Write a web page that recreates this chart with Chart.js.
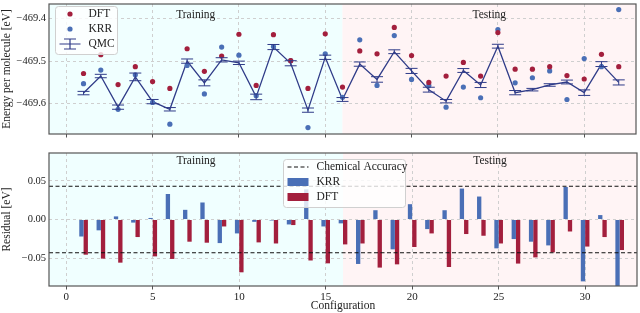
<!DOCTYPE html>
<html lang="en">
<head>
    <meta charset="UTF-8">
    <title>QMC vs DFT / KRR energies and residuals</title>
    <script src="https://cdn.jsdelivr.net/npm/chart.js"></script>
    <style>
        body {
            margin: 0;
            padding: 0;
            background-color: #ffffff;
        }
        #wrap {
            position: relative;
            width: 640px;
            height: 313px;
        }
        canvas {
            position: absolute;
            left: 0;
        }
        #topChart { top: 0; }
        #bottomChart { top: 140px; }
    </style>
</head>
<body>

    <div id="wrap">
        <canvas id="topChart" width="640" height="140"></canvas>
        <canvas id="bottomChart" width="640" height="173"></canvas>
    </div>

    <script>
        // configurations 1..32
        const configs = [1, 2, 3, 4, 5, 6, 7, 8, 9, 10, 11, 12, 13, 14, 15, 16,
                         17, 18, 19, 20, 21, 22, 23, 24, 25, 26, 27, 28, 29, 30, 31, 32];

        // energies per molecule [eV]
        const qmcEnergy = [-469.575, -469.535, -469.608, -469.537, -469.595, -469.613, -469.500, -469.551,
                           -469.497, -469.504, -469.584, -469.467, -469.505, -469.615, -469.491, -469.590,
                           -469.507, -469.543, -469.478, -469.523, -469.567, -469.594, -469.522, -469.556,
                           -469.465, -469.574, -469.567, -469.556, -469.549, -469.574, -469.507, -469.550];
        const qmcError = [0.004, 0.004, 0.005, 0.009, 0.005, 0.004, 0.005, 0.007,
                          0.005, 0.004, 0.0065, 0.006, 0.006, 0.005, 0.005, 0.0045,
                          0.005, 0.0065, 0.0045, 0.006, 0.0057, 0.004, 0.0045, 0.006,
                          0.0045, 0.005, 0.003, 0.003, 0.0045, 0.0065, 0.0057, 0.006];
        const dftEnergy = [-469.529, -469.485, -469.555, -469.513, -469.548, -469.564, -469.471, -469.524,
                           -469.488, -469.437, -469.557, -469.438, -469.499, -469.564, -469.436, -469.561,
                           -469.476, -469.483, -469.421, -469.487, -469.550, -469.535, -469.503, -469.535,
                           -469.433, -469.519, -469.519, -469.513, -469.534, -469.542, -469.484, -469.513];
        const krrEnergy = [-469.553, -469.521, -469.613, -469.532, -469.597, -469.648, -469.510, -469.577,
                           -469.467, -469.486, -469.581, -469.466, -469.499, -469.656, -469.483, -469.585,
                           -469.450, -469.557, -469.440, -469.543, -469.557, -469.608, -469.561, -469.586,
                           -469.426, -469.551, -469.539, -469.523, -469.590, -469.494, -469.513, -469.379];

        // residuals [eV]
        const krrResidual = [-0.022, -0.014, 0.004, -0.004, 0.002, 0.033, 0.0125, 0.022,
                             -0.0305, -0.018, -0.003, -0.0013, -0.0064, 0.039, -0.009, -0.005,
                             -0.0575, 0.012, -0.0386, 0.0198, -0.0124, 0.012, 0.040, 0.0297,
                             -0.0373, -0.0253, -0.0287, -0.0335, 0.042, -0.080, 0.0057, -0.171];
        const dftResidual = [-0.0455, -0.0506, -0.0558, -0.0227, -0.0477, -0.051, -0.0287, -0.030,
                             -0.009, -0.0683, -0.0296, -0.031, -0.0072, -0.053, -0.0567, -0.0322,
                             -0.031, -0.0622, -0.058, -0.0356, -0.018, -0.0614, -0.0188, -0.021,
                             -0.031, -0.057, -0.049, -0.0425, -0.0155, -0.035, -0.0227, -0.0395];

        const chemicalAccuracy = 0.043;
        const trainingEnd = 16;      // Training | Testing split
        const xRange = [-1, 33];
        const xTicks = [0, 5, 10, 15, 20, 25, 30];
        const energyTicks = [-469.6, -469.5, -469.4];
        const residualTicks = [-0.05, 0, 0.05];

        const SERIF = '"Liberation Serif", "DejaVu Serif", serif';
        const dftColor = '#a31f3d';
        const krrColor = '#4a6fb6';
        const qmcColor = '#2f3b88';
        const gridColor = '#cfcfcf';

        const minus = s => s.replace('-', '\u2212');

        // shaded regions, region labels and frame
        const regionPlugin = {
            id: 'regions',
            beforeDraw(chart) {
                const { ctx, chartArea: a, scales: { x } } = chart;
                const split = x.getPixelForValue(trainingEnd);
                ctx.save();
                ctx.fillStyle = '#f0ffff';
                ctx.fillRect(a.left, a.top, split - a.left, a.height);
                ctx.fillStyle = '#fff4f5';
                ctx.fillRect(split, a.top, a.right - split, a.height);
                ctx.restore();
            },
            afterDraw(chart, args, opts) {
                const { ctx, chartArea: a, scales: { x } } = chart;
                ctx.save();
                ctx.font = '11.5px ' + SERIF;
                ctx.fillStyle = '#222';
                ctx.textAlign = 'center';
                ctx.textBaseline = 'middle';
                ctx.fillText('Training', x.getPixelForValue((xRange[0] + trainingEnd) / 2), a.top + opts.labelOffset);
                ctx.fillText('Testing', x.getPixelForValue((trainingEnd + xRange[1]) / 2), a.top + opts.labelOffset);
                ctx.strokeStyle = '#555';
                ctx.lineWidth = 1.2;
                ctx.strokeRect(a.left, a.top, a.width, a.height);
                ctx.restore();
            }
        };

        // QMC error bars
        const errorBarPlugin = {
            id: 'errorBars',
            afterDatasetsDraw(chart) {
                const { ctx, scales: { x, y } } = chart;
                ctx.save();
                ctx.strokeStyle = qmcColor;
                ctx.lineWidth = 1;
                configs.forEach((c, i) => {
                    const px = x.getPixelForValue(c);
                    const top = y.getPixelForValue(qmcEnergy[i] + qmcError[i]);
                    const bot = y.getPixelForValue(qmcEnergy[i] - qmcError[i]);
                    ctx.beginPath();
                    ctx.moveTo(px, top); ctx.lineTo(px, bot);
                    ctx.moveTo(px - 6, top); ctx.lineTo(px + 6, top);
                    ctx.moveTo(px - 6, bot); ctx.lineTo(px + 6, bot);
                    ctx.stroke();
                });
                ctx.restore();
            }
        };

        // legend box drawn inside the plot
        const boxLegendPlugin = {
            id: 'boxLegend',
            afterDraw(chart, args, opts) {
                const ctx = chart.ctx;
                ctx.save();
                ctx.fillStyle = 'rgba(255,255,255,0.8)';
                ctx.strokeStyle = '#d0d0d0';
                ctx.lineWidth = 1;
                ctx.beginPath();
                ctx.roundRect(opts.x + 0.5, opts.y + 0.5, opts.w, opts.h, 3);
                ctx.fill();
                ctx.stroke();
                ctx.font = '11.5px ' + SERIF;
                ctx.textBaseline = 'middle';
                chart.data.datasets.filter(d => d.marker).forEach((d, i) => {
                    const y = opts.y + 8 + i * 15;
                    const x0 = opts.x + 4.5, x1 = opts.x + 25.5, xm = (x0 + x1) / 2;
                    const color = d.borderColor || d.backgroundColor;
                    ctx.fillStyle = color;
                    ctx.strokeStyle = color;
                    if (d.marker === 'dot') {
                        ctx.beginPath();
                        ctx.arc(xm, y, 2.6, 0, Math.PI * 2);
                        ctx.fill();
                    } else if (d.marker === 'errorbar') {
                        ctx.lineWidth = 1.2;
                        ctx.beginPath();
                        ctx.moveTo(x0, y); ctx.lineTo(x1, y);
                        ctx.moveTo(xm, y - 5); ctx.lineTo(xm, y + 5);
                        ctx.moveTo(xm - 6, y - 5); ctx.lineTo(xm + 6, y - 5);
                        ctx.moveTo(xm - 6, y + 5); ctx.lineTo(xm + 6, y + 5);
                        ctx.stroke();
                    } else if (d.marker === 'dash') {
                        ctx.lineWidth = 1.2;
                        ctx.setLineDash([4, 2.5]);
                        ctx.beginPath();
                        ctx.moveTo(x0, y); ctx.lineTo(x1, y);
                        ctx.stroke();
                        ctx.setLineDash([]);
                    } else if (d.marker === 'rect') {
                        ctx.fillRect(x0, y - 4, x1 - x0, 8);
                    }
                    ctx.fillStyle = '#222';
                    ctx.fillText(d.label, opts.x + 33.5, y);
                });
                ctx.restore();
            }
        };

        function xAxis(showLabels) {
            return {
                type: 'linear',
                min: xRange[0],
                max: xRange[1],
                offset: false,
                afterBuildTicks: s => { s.ticks = xTicks.map(v => ({ value: v })); },
                afterFit: s => {
                    s.height = showLabels ? 27 : 6;
                    s.paddingLeft = 0;
                    s.paddingRight = 0;
                },
                grid: { color: gridColor, tickColor: '#555', tickLength: 3.5, offset: false },
                border: { display: false, dash: [3, 3] },
                ticks: {
                    display: showLabels,
                    padding: 1,
                    maxRotation: 0,
                    color: '#222',
                    font: { family: SERIF, size: 11 }
                },
                title: {
                    display: showLabels,
                    text: 'Configuration',
                    color: '#222',
                    padding: { top: 0, bottom: 0 },
                    font: { family: SERIF, size: 11.5 }
                }
            };
        }

        function yAxis(min, max, ticks, digits, label) {
            return {
                type: 'linear',
                min: min,
                max: max,
                afterBuildTicks: s => { s.ticks = ticks.map(v => ({ value: v })); },
                afterFit: s => {
                    s.width = 49;
                    s.paddingTop = 0;
                    s.paddingBottom = 0;
                },
                grid: { color: gridColor, drawTicks: false },
                border: { display: false, dash: [3, 3] },
                ticks: {
                    padding: 3,
                    color: '#222',
                    font: { family: SERIF, size: 10.5 },
                    callback: v => minus(Number(v).toFixed(digits))
                },
                title: {
                    display: true,
                    text: label,
                    color: '#222',
                    padding: { top: 0, bottom: 2 },
                    font: { family: SERIF, size: 11.5 }
                }
            };
        }

        // top panel: energies
        new Chart(document.getElementById('topChart'), {
            type: 'scatter',
            data: {
                datasets: [
                    {
                        label: 'DFT',
                        marker: 'dot',
                        data: configs.map((c, i) => ({ x: c, y: dftEnergy[i] })),
                        backgroundColor: dftColor,
                        pointRadius: 2.6,
                        pointBorderWidth: 0
                    },
                    {
                        label: 'KRR',
                        marker: 'dot',
                        data: configs.map((c, i) => ({ x: c, y: krrEnergy[i] })),
                        backgroundColor: krrColor,
                        pointRadius: 2.6,
                        pointBorderWidth: 0
                    },
                    {
                        label: 'QMC',
                        marker: 'errorbar',
                        data: configs.map((c, i) => ({ x: c, y: qmcEnergy[i] })),
                        showLine: true,
                        borderColor: qmcColor,
                        borderWidth: 1.3,
                        pointRadius: 0
                    }
                ]
            },
            options: {
                responsive: false,
                animation: false,
                layout: { padding: { top: 1, right: 3, bottom: 0, left: 0 } },
                scales: {
                    x: xAxis(false),
                    y: yAxis(-469.671, -469.366, energyTicks, 1, 'Energy per molecule [eV]')
                },
                plugins: {
                    legend: { display: false },
                    tooltip: { enabled: false },
                    regions: { labelOffset: 11 },
                    boxLegend: { x: 55, y: 6, w: 62, h: 48 }
                }
            },
            plugins: [regionPlugin, errorBarPlugin, boxLegendPlugin]
        });

        // bottom panel: residuals
        new Chart(document.getElementById('bottomChart'), {
            type: 'bar',
            data: {
                datasets: [
                    {
                        type: 'line',
                        label: 'Chemical Accuracy',
                        marker: 'dash',
                        data: [
                            { x: xRange[0], y: chemicalAccuracy }, { x: xRange[1], y: chemicalAccuracy },
                            { x: xRange[1], y: null },
                            { x: xRange[0], y: -chemicalAccuracy }, { x: xRange[1], y: -chemicalAccuracy }
                        ],
                        borderColor: '#111',
                        borderWidth: 1.2,
                        borderDash: [4, 2.5],
                        pointRadius: 0,
                        spanGaps: false,
                        order: 0
                    },
                    {
                        label: 'KRR',
                        marker: 'rect',
                        data: configs.map((c, i) => ({ x: c, y: krrResidual[i] })),
                        backgroundColor: krrColor,
                        order: 1
                    },
                    {
                        label: 'DFT',
                        marker: 'rect',
                        data: configs.map((c, i) => ({ x: c, y: dftResidual[i] })),
                        backgroundColor: dftColor,
                        order: 1
                    }
                ]
            },
            options: {
                responsive: false,
                animation: false,
                categoryPercentage: 0.5,
                barPercentage: 1,
                layout: { padding: { top: 13, right: 3, bottom: 0, left: 0 } },
                scales: {
                    x: xAxis(true),
                    y: yAxis(-0.086, 0.086, residualTicks, 2, 'Residual [eV]')
                },
                plugins: {
                    legend: { display: false },
                    tooltip: { enabled: false },
                    regions: { labelOffset: 8 },
                    boxLegend: { x: 283, y: 19, w: 122, h: 48 }
                }
            },
            plugins: [regionPlugin, boxLegendPlugin]
        });
    </script>

</body>
</html>
